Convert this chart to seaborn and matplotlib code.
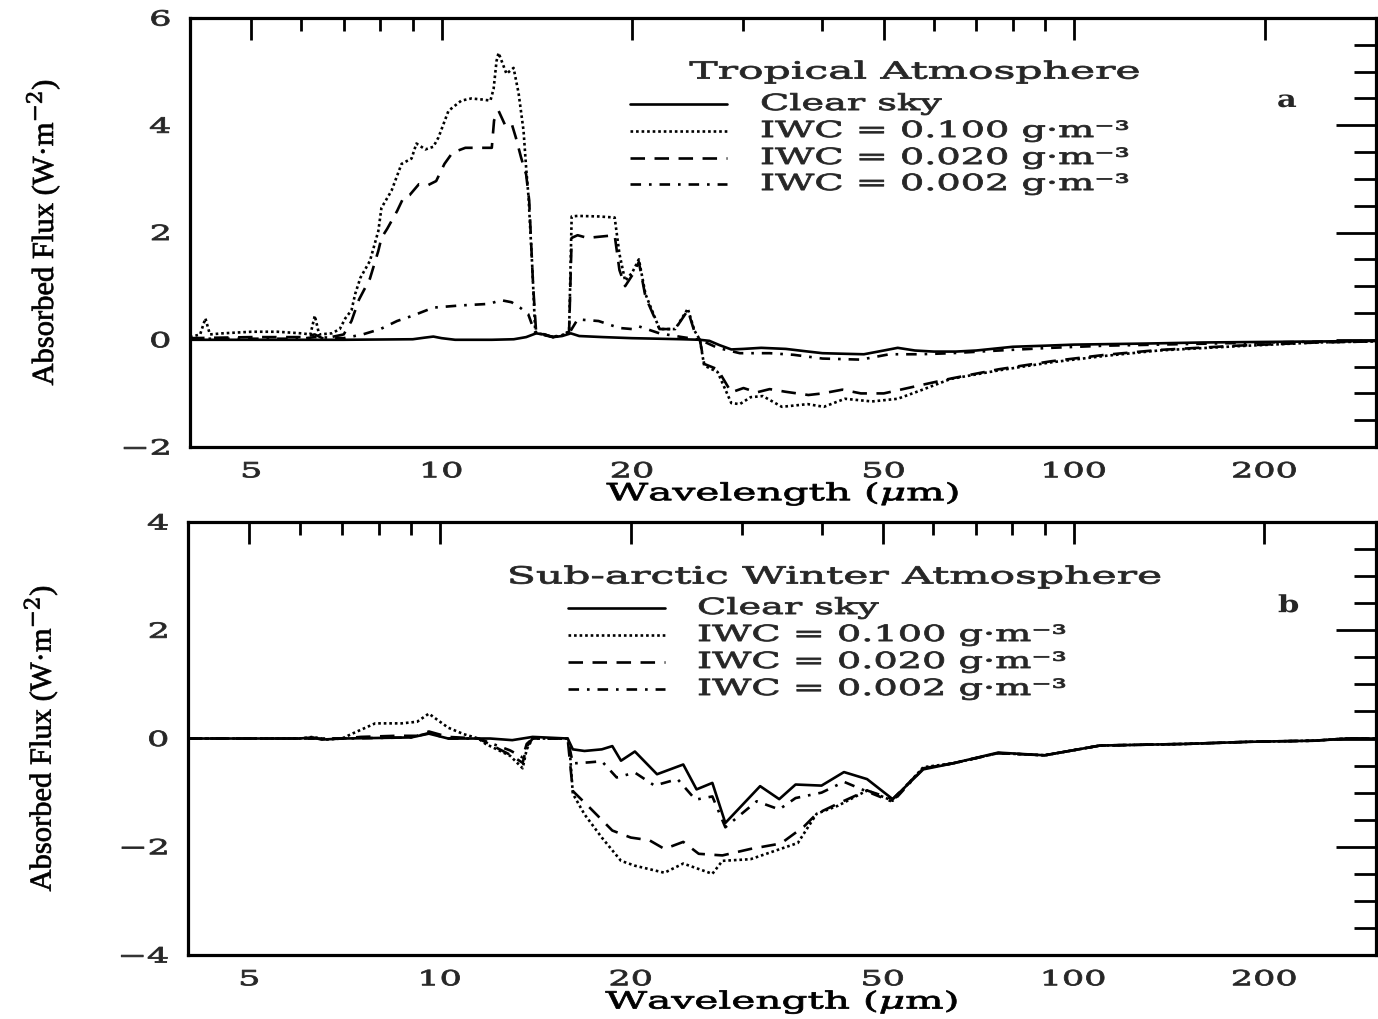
import numpy as np
import pandas as pd
import seaborn as sns
import matplotlib
matplotlib.use("Agg")
import matplotlib.pyplot as plt
from matplotlib.patheffects import AbstractPathEffect
from matplotlib.transforms import Affine2D
from matplotlib.ticker import FixedLocator, MultipleLocator, NullFormatter

# ------------------------------------------------------------------ data
# Panel a : Tropical atmosphere
wl_a_clear = [4.0, 5.0, 7.0, 9.0, 9.4, 9.7, 10.0, 10.5, 12.0, 13.0, 13.6, 14.1, 14.5, 15.0, 15.5, 16.0,
              16.5, 18.0, 20.0, 22.0, 24.0, 25.6, 26.5, 27.5, 28.7, 30.0, 32.0, 35.0, 38.0, 40.0, 43.0,
              46.5, 50.0, 52.6, 56.0, 60.0, 65.0, 70.0, 80.0, 90.0, 100.0, 130.0, 160.0, 200.0, 250.0, 300.0]
fx_a_clear = [0.0, 0.0, 0.0, 0.01, 0.04, 0.06, 0.03, 0.0, 0.0, 0.01, 0.05, 0.12, 0.10, 0.05, 0.07, 0.12,
              0.07, 0.05, 0.03, 0.02, 0.01, 0.0, -0.02, -0.10, -0.18, -0.17, -0.15, -0.17, -0.22, -0.25, -0.26,
              -0.27, -0.20, -0.15, -0.20, -0.22, -0.22, -0.20, -0.13, -0.11, -0.09, -0.07, -0.05, -0.04, -0.03, -0.02]

wl_a_100 = [4.0, 4.15, 4.23, 4.3, 4.5, 5.0, 5.5, 6.0, 6.2, 6.3, 6.4, 6.7, 6.9, 7.04, 7.2, 7.3, 7.44, 7.7,
            7.94, 8.03, 8.33, 8.64, 8.96, 9.12, 9.42, 9.7, 9.88, 10.25, 10.74, 11.14, 11.6, 11.94, 12.08,
            12.21, 12.3, 12.66, 12.99, 13.23, 13.47, 13.6, 13.72, 13.9, 14.05, 14.12, 14.5, 15.0, 15.5, 15.9,
            16.05, 16.4, 17.7, 18.77, 19.1, 19.5, 20.0, 20.5, 21.0, 22.1, 23.4, 24.5, 25.1, 25.6, 26.0, 27.3,
            28.7, 29.6, 30.8, 32.2, 34.5, 37.9, 40.2, 43.4, 47.9, 52.6, 57.0, 63.8, 76.0, 92.0, 112.0, 136.0,
            181.0, 242.0, 300.0]
fx_a_100 = [0.05, 0.10, 0.40, 0.10, 0.12, 0.15, 0.15, 0.12, 0.10, 0.45, 0.10, 0.12, 0.20, 0.40, 0.55, 0.86,
            1.16, 1.47, 2.03, 2.46, 2.78, 3.28, 3.38, 3.66, 3.55, 3.60, 3.77, 4.27, 4.46, 4.50, 4.48, 4.46,
            4.68, 5.20, 5.35, 4.96, 5.07, 4.60, 3.90, 3.20, 2.65, 1.40, 0.20, 0.12, 0.10, 0.05, 0.08, 0.15,
            2.30, 2.31, 2.30, 2.28, 1.60, 1.10, 1.25, 1.50, 0.85, 0.20, 0.20, 0.58, 0.17, 0.0, -0.48, -0.60,
            -1.18, -1.20, -1.07, -1.05, -1.25, -1.20, -1.25, -1.10, -1.15, -1.10, -0.95, -0.73, -0.57, -0.42,
            -0.30, -0.20, -0.12, -0.05, -0.03]

wl_a_020 = [4.0, 5.0, 6.0, 6.3, 6.5, 7.0, 7.2, 7.4, 7.7, 7.94, 8.03, 8.2, 8.5, 8.7, 8.9, 9.2, 9.5, 9.8,
            10.1, 10.4, 10.9, 12.0, 12.1, 12.3, 12.6, 12.9, 13.1, 13.35, 13.6, 13.75, 13.95, 14.1, 15.0, 15.9,
            16.05, 16.4, 17.0, 18.77, 19.1, 19.5, 20.0, 20.5, 21.0, 22.1, 23.4, 24.5, 25.1, 25.6, 26.0, 27.3,
            28.7, 30.0, 31.5, 33.0, 35.0, 38.0, 40.0, 43.0, 46.0, 50.0, 57.0, 64.0, 76.0, 92.0, 112.0, 136.0,
            181.0, 242.0, 300.0]
fx_a_020 = [0.03, 0.05, 0.05, 0.10, 0.02, 0.10, 0.35, 0.75, 1.14, 1.66, 1.90, 2.07, 2.40, 2.65, 2.70, 2.90,
            2.88, 2.96, 3.28, 3.49, 3.58, 3.58, 4.09, 4.27, 4.00, 4.03, 3.77, 3.40, 3.08, 2.60, 1.00, 0.15,
            0.05, 0.15, 1.90, 1.95, 1.90, 1.95, 1.30, 1.00, 1.20, 1.45, 0.80, 0.20, 0.20, 0.55, 0.15, 0.0,
            -0.45, -0.55, -0.98, -0.90, -0.98, -0.92, -0.97, -1.03, -1.00, -0.93, -1.00, -1.00, -0.85, -0.72,
            -0.55, -0.40, -0.28, -0.19, -0.11, -0.05, -0.03]

wl_a_002 = [4.0, 6.0, 6.3, 7.0, 7.5, 8.0, 8.5, 9.0, 9.7, 10.7, 11.9, 12.4, 12.9, 13.3, 13.7, 14.0, 14.1,
            15.0, 15.9, 16.4, 17.7, 19.1, 20.0, 20.5, 22.1, 24.0, 25.6, 27.3, 29.6, 33.0, 36.0, 40.0, 46.0,
            51.0, 57.0, 64.0, 76.0, 92.0, 112.0, 150.0, 200.0, 300.0]
fx_a_002 = [0.02, 0.02, 0.05, 0.03, 0.10, 0.20, 0.35, 0.45, 0.60, 0.64, 0.67, 0.74, 0.70, 0.60, 0.48, 0.17,
            0.12, 0.05, 0.12, 0.38, 0.35, 0.22, 0.20, 0.25, 0.12, 0.05, 0.0, -0.15, -0.25, -0.25, -0.28, -0.35,
            -0.37, -0.27, -0.27, -0.25, -0.20, -0.15, -0.11, -0.08, -0.05, -0.02]

# Panel b : Sub-arctic winter atmosphere
wl_b_clear = [4.0, 6.0, 6.3, 6.5, 7.0, 9.0, 9.6, 10.3, 12.0, 13.0, 14.0, 15.9, 16.2, 16.9, 18.0, 18.7, 19.3,
              20.3, 22.0, 24.2, 25.4, 26.9, 28.2, 32.0, 34.3, 36.4, 40.0, 43.4, 47.2, 51.8, 57.9, 64.4, 76.0,
              90.0, 110.0, 150.0, 190.0, 240.0, 270.0, 300.0]
fx_b_clear = [0.0, 0.0, 0.02, -0.02, 0.0, 0.02, 0.09, 0.0, 0.0, -0.03, 0.03, 0.0, -0.20, -0.23, -0.20, -0.14,
              -0.41, -0.24, -0.66, -0.48, -0.94, -0.82, -1.56, -0.88, -1.12, -0.85, -0.87, -0.62, -0.75, -1.12,
              -0.57, -0.46, -0.26, -0.31, -0.13, -0.10, -0.06, -0.04, 0.0, 0.0]

wl_b_100 = [4.0, 6.0, 6.3, 6.6, 7.0, 7.3, 7.9, 8.7, 9.2, 9.6, 10.3, 10.9, 11.5, 11.8, 12.9, 13.5, 13.7, 14.0,
            15.9, 16.0, 16.2, 16.9, 18.0, 19.3, 20.3, 22.6, 24.2, 26.9, 27.9, 30.9, 36.7, 39.3, 42.5, 47.2,
            51.8, 57.9, 64.4, 76.0, 90.0, 110.0, 150.0, 190.0, 240.0, 270.0, 300.0]
fx_b_100 = [0.0, 0.0, 0.03, -0.02, 0.0, 0.10, 0.28, 0.28, 0.31, 0.46, 0.20, 0.08, 0.0, -0.10, -0.32, -0.55,
            -0.20, 0.0, 0.0, -0.12, -1.02, -1.40, -1.83, -2.26, -2.35, -2.48, -2.31, -2.50, -2.26, -2.23, -1.93,
            -1.39, -1.24, -0.96, -1.15, -0.53, -0.46, -0.27, -0.31, -0.13, -0.10, -0.06, -0.04, 0.0, 0.0]

wl_b_020 = [4.0, 7.0, 7.5, 8.5, 9.2, 9.6, 10.3, 11.5, 12.9, 13.5, 13.7, 14.0, 15.9, 16.2, 17.2, 18.7, 20.0,
            21.4, 22.6, 24.2, 25.6, 27.9, 30.9, 34.5, 37.5, 39.3, 42.5, 47.2, 51.8, 57.9, 64.4, 76.0, 90.0,
            110.0, 150.0, 190.0, 240.0, 270.0, 300.0]
fx_b_020 = [0.0, 0.0, 0.03, 0.05, 0.05, 0.13, 0.03, 0.0, -0.30, -0.45, -0.15, 0.0, 0.0, -0.97, -1.27, -1.70,
            -1.83, -1.88, -2.04, -1.91, -2.13, -2.16, -2.04, -1.94, -1.63, -1.39, -1.20, -0.96, -1.12, -0.55,
            -0.46, -0.27, -0.31, -0.13, -0.10, -0.06, -0.04, 0.0, 0.0]

wl_b_002 = [4.0, 7.0, 9.0, 9.6, 10.3, 11.5, 12.9, 13.5, 13.7, 14.0, 15.9, 16.2, 17.2, 18.0, 19.0, 20.3, 21.8,
            23.7, 25.3, 26.9, 28.2, 31.6, 34.3, 36.4, 40.0, 43.4, 47.2, 51.8, 57.9, 64.4, 76.0, 90.0, 110.0,
            150.0, 190.0, 240.0, 270.0, 300.0]
fx_b_002 = [0.0, 0.0, 0.02, 0.10, 0.0, 0.0, -0.22, -0.35, -0.10, 0.0, 0.0, -0.46, -0.44, -0.42, -0.72, -0.63,
            -0.87, -0.75, -1.13, -1.07, -1.64, -1.16, -1.31, -1.10, -1.00, -0.80, -0.98, -1.17, -0.55, -0.46,
            -0.27, -0.31, -0.13, -0.10, -0.06, -0.04, 0.0, 0.0]

series_labels = ["Clear sky", "IWC = 0.100 g\u00b7m\u207b\u00b3", "IWC = 0.020 g\u00b7m\u207b\u00b3",
                 "IWC = 0.002 g\u00b7m\u207b\u00b3"]
panel_titles = ["Tropical Atmosphere", "Sub-arctic Winter Atmosphere"]
panel_tags = ["a", "b"]
x_major = [5, 10, 20, 50, 100, 200]
x_major_labels = ["5", "10", "20", "50", "100", "200"]
x_minor = [4, 6, 7, 8, 9, 30, 40, 60, 70, 80, 90, 300]
y_ticks_a = [-2, 0, 2, 4, 6]
y_ticks_b = [-4, -2, 0, 2, 4]
x_label = "Wavelength ($\\mu$m)"
y_label = "Absorbed Flux (W\u00b7m$^{-2}$)"

# ------------------------------------------------------------------ style
sns.set_theme(style="white")
plt.rcParams["font.family"] = ["DejaVu Serif", "DejaVu Sans"]
plt.rcParams["mathtext.fontset"] = "dejavuserif"
plt.rcParams["axes.unicode_minus"] = True


class Stretch(AbstractPathEffect):
    """Widen (and slightly embolden) glyphs: the reference uses an extended, heavy typeface."""

    def __init__(self, sx=1.6, anchor="left", lw=0.6):
        super().__init__()
        self.sx = sx
        self.anchor = anchor
        self.lw = lw

    def draw_path(self, renderer, gc, tpath, affine, rgbFace=None):
        ext = tpath.get_extents()
        if self.anchor == "center":
            cx = 0.5 * (ext.x0 + ext.x1)
        elif self.anchor == "right":
            cx = ext.x1
        else:
            cx = 0.0
        t = Affine2D().translate(-cx, 0).scale(self.sx, 1.0).translate(cx, 0)
        gc0 = renderer.new_gc()
        gc0.copy_properties(gc)
        if rgbFace is not None and self.lw > 0:
            gc0.set_foreground(rgbFace)
            gc0.set_linewidth(self.lw)
            gc0.set_joinstyle("round")
        renderer.draw_path(gc0, tpath, t + affine, rgbFace)
        gc0.restore()


SX = 1.68
SX_TITLE = 1.8
SX_LEG = 1.72
LW = 1.9
line_styles = ["-", (0, (1.0, 1.1)), (0, (5.5, 3.6)), (0, (4.0, 3.0, 1.0, 3.0))]

fig = plt.figure(figsize=(13.78, 10.19), dpi=100)
fig.patch.set_facecolor("white")
ax_a = fig.add_axes([0.1379, 0.5613, 0.8606, 0.4210])
ax_b = fig.add_axes([0.1364, 0.0628, 0.8621, 0.4249])

panels = [
    (ax_a, [(wl_a_clear, fx_a_clear), (wl_a_100, fx_a_100), (wl_a_020, fx_a_020), (wl_a_002, fx_a_002)],
     (-2, 6), y_ticks_a),
    (ax_b, [(wl_b_clear, fx_b_clear), (wl_b_100, fx_b_100), (wl_b_020, fx_b_020), (wl_b_002, fx_b_002)],
     (-4, 4), y_ticks_b),
]

# legend geometry (axes fraction) per panel
legend_geo = [
    dict(h0=0.3710, h1=0.4528, tx=0.4806, rows=[0.7995, 0.7366, 0.6737, 0.6130], title=(0.611, 0.874),
         tag=(0.9165, 0.809)),
    dict(h0=0.3199, h1=0.4015, tx=0.4285, rows=[0.8014, 0.7390, 0.6767, 0.6143], title=(0.5446, 0.873),
         tag=(0.9175, 0.808)),
]

for k, (ax, series, ylim, yt) in enumerate(panels):
    ax.set_xscale("log")
    for (wl, fx), ls in zip(series, line_styles):
        df = pd.DataFrame({"wavelength": wl, "flux": fx})
        sns.lineplot(data=df, x="wavelength", y="flux", ax=ax, color="black", linewidth=LW,
                     linestyle=ls, estimator=None, sort=False)
    ax.set_xlim(4, 300)
    ax.set_ylim(*ylim)
    ax.xaxis.set_major_locator(FixedLocator(x_major))
    ax.xaxis.set_minor_locator(FixedLocator(x_minor))
    ax.set_xticklabels(x_major_labels)
    ax.xaxis.set_minor_formatter(NullFormatter())
    ax.yaxis.set_major_locator(FixedLocator(yt))
    ax.set_yticklabels([str(v).replace("-", "\u2212") for v in yt])
    ax.yaxis.set_minor_locator(MultipleLocator(0.5))
    for sp in ax.spines.values():
        sp.set_linewidth(2.3)
        sp.set_color("black")
        sp.set_visible(True)
    ax.tick_params(which="both", direction="in", top=True, right=True, color="black", width=2.0)
    ax.tick_params(axis="x", which="major", length=16, pad=11, labelsize=15)
    ax.tick_params(axis="x", which="minor", length=9)
    ax.tick_params(axis="y", which="major", length=29, pad=14, labelsize=15)
    ax.tick_params(axis="y", which="minor", length=16)
    for lab in ax.get_xticklabels():
        lab.set_path_effects([Stretch(SX, "center")])
    for lab in ax.get_yticklabels():
        lab.set_path_effects([Stretch(SX, "right")])

    ax.set_xlabel(x_label, fontsize=17, color="black")
    ax.xaxis.set_label_coords(0.5, -0.075)
    ax.xaxis.label.set_path_effects([Stretch(1.72, "center")])
    ax.set_ylabel(y_label, fontsize=22, color="black", family=["Liberation Serif", "DejaVu Serif"])
    ax.yaxis.set_label_coords(-0.108, 0.5)
    ax.yaxis.label.set_path_effects([Stretch(1.0, "center", lw=0.5)])

    g = legend_geo[k]
    tr = ax.transAxes
    for (lab, ls, ry) in zip(series_labels, line_styles, g["rows"]):
        ax.plot([g["h0"], g["h1"]], [ry, ry], transform=tr, color="black", linewidth=LW, linestyle=ls)
        ax.text(g["tx"], ry, lab, transform=tr, fontsize=16, ha="left", va="center",
                path_effects=[Stretch(SX_LEG, "left")])
    ax.text(g["title"][0], g["title"][1], panel_titles[k], transform=tr, fontsize=17, ha="center",
            va="center", path_effects=[Stretch(SX_TITLE, "center")])
    ax.text(g["tag"][0], g["tag"][1], panel_tags[k], transform=tr, fontsize=17, ha="left", va="center",
            fontweight="bold", path_effects=[Stretch(1.3, "left", lw=0.0)])

fig.savefig("out.png", dpi=100, facecolor="white")
